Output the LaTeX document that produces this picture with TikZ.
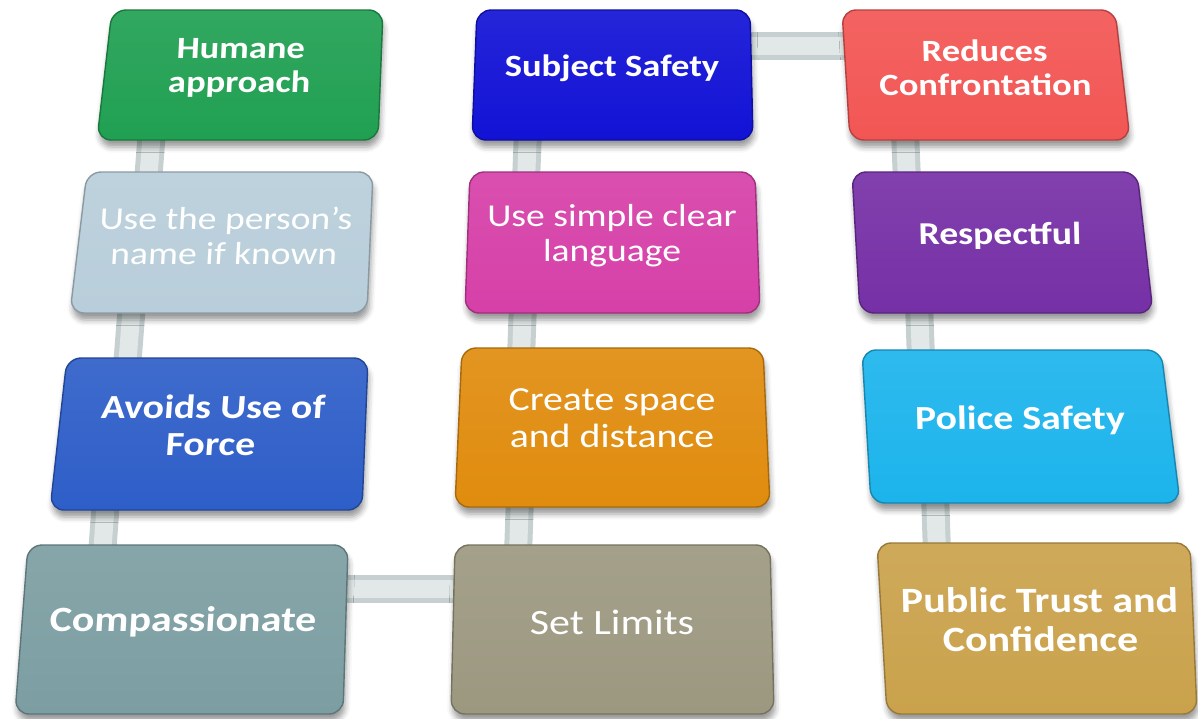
\documentclass[tikz,border=0pt]{standalone}
\usepackage{fontspec}
\setmainfont{Carlito}
\usetikzlibrary{shadows.blur}
\definecolor{cGrn}{RGB}{32,160,82}
\definecolor{cMist}{RGB}{184,206,218}
\definecolor{cRoyal}{RGB}{46,94,200}
\definecolor{cSage}{RGB}{124,158,162}
\definecolor{cBlue}{RGB}{18,18,214}
\definecolor{cPink}{RGB}{214,64,168}
\definecolor{cAmber}{RGB}{224,140,14}
\definecolor{cStone}{RGB}{156,152,128}
\definecolor{cRed}{RGB}{242,86,84}
\definecolor{cPurp}{RGB}{118,48,166}
\definecolor{cSky}{RGB}{28,180,236}
\definecolor{cGold}{RGB}{202,162,76}
\definecolor{barGry}{RGB}{198,208,208}
\definecolor{barLt}{RGB}{226,232,232}
\tikzset{
  card/.style={rounded corners=10pt,draw=#1!75!black,line width=1pt,
    top color=#1!92!white,bottom color=#1,
    blur shadow={shadow xshift=1pt,shadow yshift=-5pt,shadow blur radius=4pt,shadow opacity=40}},
  txtb/.style={font=\fontsize{22}{24}\selectfont\bfseries,text=white,align=center,xscale=1.18},
  txtr/.style={font=\fontsize{22}{24}\selectfont,text=white,align=center,xscale=1.18},
  bar/.style={draw=barGry,line width=7mm,postaction={draw=barLt,line width=4.5mm}},
  % rows nearer the bottom come out a little larger
  row2/.style={scale=1.03}, row3/.style={scale=1.09}, row4/.style={scale=1.15},
}

\begin{document}
\begin{tikzpicture}[x=0.025cm,y=-0.025cm]
\useasboundingbox (0,0) rectangle (1198,718);
% joints between the cards
\coordinate (hum-s) at (152,130); \coordinate (nam-n) at (148,182);
\coordinate (nam-s) at (132,303); \coordinate (avo-n) at (127,368);
\coordinate (avo-s) at (106,500); \coordinate (com-n) at (102,555);
\coordinate (com-e) at (338,589); \coordinate (lim-w) at (465,589);
\coordinate (sub-s) at (528,130); \coordinate (lan-n) at (526,182);
\coordinate (lan-s) at (523,303); \coordinate (spc-n) at (521,358);
\coordinate (spc-s) at (520,497); \coordinate (lim-n) at (518,555);
\coordinate (sub-e) at (740,46); \coordinate (red-w) at (852,46);
\coordinate (red-s) at (905,130); \coordinate (pur-n) at (907,182);
\coordinate (pur-s) at (919,303); \coordinate (cyn-n) at (921,360);
\coordinate (cyn-s) at (935,493); \coordinate (gld-n) at (937,553);
\draw[bar] (hum-s) -- (nam-n);
\draw[bar] (nam-s) -- (avo-n);
\draw[bar] (avo-s) -- (com-n);
\draw[bar] (com-e) -- (lim-w);
\draw[bar] (sub-s) -- (lan-n);
\draw[bar] (lan-s) -- (spc-n);
\draw[bar] (spc-s) -- (lim-n);
\draw[bar] (sub-e) -- (red-w);
\draw[bar] (red-s) -- (pur-n);
\draw[bar] (pur-s) -- (cyn-n);
\draw[bar] (cyn-s) -- (gld-n);
% left column
\draw[card=cGrn] (112,10) -- (383,10) -- (378,140) -- (97,140) -- cycle;
\draw[card=cMist] (87,172) -- (373,172) -- (367,313) -- (70,313) -- cycle;
\draw[card=cRoyal] (67,358) -- (368,358) -- (362,510) -- (50,510) -- cycle;
\draw[card=cSage] (28,545) -- (348,545) -- (343,714) -- (15,714) -- cycle;
\node[txtb,xslant=.04] (hum) at (240,68) {Humane\\approach};
\node[txtr,row2,xslant=.05] (nam) at (225,236) {Use the person’s\\name if known};
\node[txtb,row3,xslant=.06] (avo) at (212,425) {Avoids Use of\\Force};
\node[txtb,row4,xslant=.05] (com) at (183,622) {Compassionate};
% middle column
\draw[card=cBlue] (477,10) -- (750,10) -- (753,140) -- (472,140) -- cycle;
\draw[card=cPink] (470,172) -- (755,172) -- (760,313) -- (465,313) -- cycle;
\draw[card=cAmber] (462,348) -- (763,348) -- (770,507) -- (455,507) -- cycle;
\draw[card=cStone] (455,545) -- (770,545) -- (774,714) -- (451,714) -- cycle;
\node[txtb] (sub) at (612,68) {Subject Safety};
\node[txtr,row2] (lan) at (612,236) {Use simple clear\\language};
\node[txtr,row3] (spc) at (612,418) {Create space\\and distance};
\node[txtr,row4] (lim) at (612,622) {Set Limits};
% right column
\draw[card=cRed] (842,10) -- (1115,10) -- (1130,140) -- (850,140) -- cycle;
\draw[card=cPurp] (852,172) -- (1137,172) -- (1153,313) -- (860,313) -- cycle;
\draw[card=cSky] (862,350) -- (1161,350) -- (1180,503) -- (871,503) -- cycle;
\draw[card=cGold] (877,543) -- (1190,543) -- (1197,714) -- (887,714) -- cycle;
\node[txtb,xslant=-.02] (red) at (985,68) {Reduces\\Confrontation};
\node[txtb,row2,xslant=-.02] (pur) at (1000,236) {Respectful};
\node[txtb,row3,xslant=-.02] (cyn) at (1020,420) {Police Safety};
\node[txtb,row4,xslant=-.02] (gld) at (1040,620) {Public Trust and\\Confidence};
\end{tikzpicture}
\end{document}
